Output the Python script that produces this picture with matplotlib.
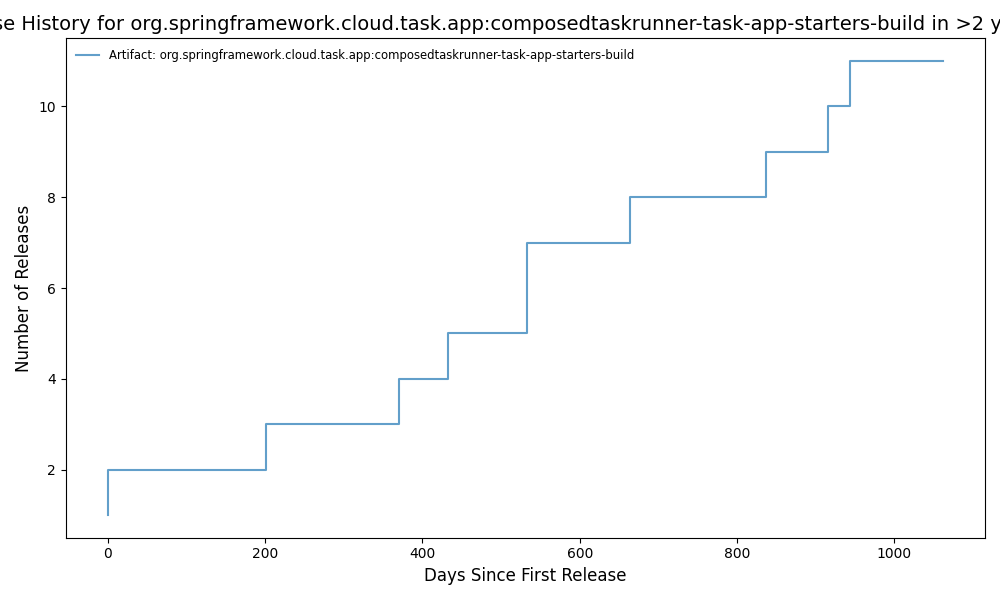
import matplotlib
matplotlib.use("Agg")
import matplotlib.pyplot as plt

ARTIFACT = "org.springframework.cloud.task.app:composedtaskrunner-task-app-starters-build"

# days since first release and cumulative release count
days = [0, 0, 201, 370, 433, 533, 533, 664, 837, 915, 943, 1062]
releases = [1, 2, 3, 4, 5, 6, 7, 8, 9, 10, 11, 11]

if __name__ == "__main__":
    plt.figure(figsize=(10, 6), dpi=100)
    plt.step(days, releases, where="post", color="tab:blue", alpha=0.7,
             label="Artifact: {}".format(ARTIFACT))
    plt.xlabel("Days Since First Release", fontsize=12)
    plt.ylabel("Number of Releases", fontsize=12)
    plt.title("Release History for {} in >2 years period".format(ARTIFACT),
              fontsize=14)
    plt.legend(loc="upper left", frameon=False, fontsize="small")
    plt.tight_layout()
    plt.savefig("out.png")
